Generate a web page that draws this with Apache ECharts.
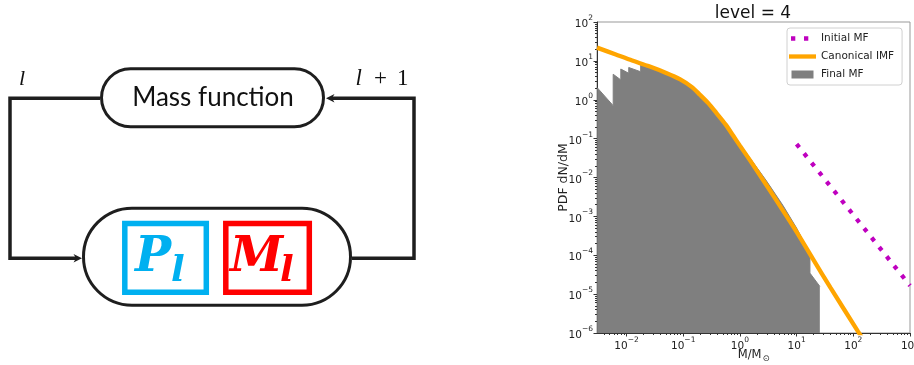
<!DOCTYPE html>
<html><head><meta charset="utf-8">
<script src="https://cdn.jsdelivr.net/npm/echarts@6/dist/echarts.min.js"></script>
<style>html,body{margin:0;padding:0;background:#fff}#c{width:914px;height:365px}</style>
</head><body><div id="c"></div>
<script>
// ---- data ----
const xTickExponents = [-2, -1, 0, 1, 2, 3];
const yTickExponents = [-6, -5, -4, -3, -2, -1, 0, 1, 2];
const seriesNames = ['Initial MF', 'Canonical IMF', 'Final MF'];

const initialMass = [10, 1000];
const initialPdf  = [0.0724, 1.66e-5];

const canonicalMass = [0.00302, 0.00631, 0.0126, 0.0251, 0.0501, 0.0871, 0.141, 0.200, 0.282, 0.389, 0.562, 0.759, 1.0, 1.51, 2.95, 5.75, 10, 19.5, 39.8, 120, 200];
const canonicalPdf  = [21.9, 14.8, 10.2, 7.24, 4.90, 3.39, 2.14, 1.32, 0.794, 0.447, 0.229, 0.120, 0.0661, 0.0275, 0.00631, 0.00141, 3.98e-4, 7.94e-5, 1.45e-5, 1.12e-6, 3.5e-7];

const finalMass = [0.00304, 0.00583, 0.00583, 0.00794, 0.00794, 0.01096, 0.01096, 0.0178, 0.0178, 0.0224, 0.024, 0.0251, 0.0355, 0.038, 0.0417, 0.0562, 0.0871, 0.112, 0.141, 0.200, 0.282, 0.389, 0.562, 0.759, 1.0, 1.51, 2.95, 5.75, 10, 14.1, 17.2, 17.2, 25.7];
const finalPdf  = [2.05, 0.705, 4.53, 3.24, 6.17, 4.79, 6.76, 5.25, 7.94, 7.24, 7.76, 6.76, 5.75, 6.31, 5.25, 4.27, 3.09, 2.51, 1.95, 1.23, 0.741, 0.427, 0.219, 0.120, 0.0724, 0.0316, 0.00813, 0.00191, 5.01e-4, 1.91e-4, 1.0e-4, 3.47e-5, 1.58e-5];

// ---- helpers ----
const lg = v => Math.log10(v);
const pairs = (xs, ys) => xs.map((x, i) => [lg(x), lg(ys[i])]);
function minorTicks(lo, hi) {
  const out = [];
  for (let n = Math.floor(lo) - 1; n <= Math.ceil(hi); n++) {
    for (let k = 2; k <= 9; k++) {
      const v = n + Math.log10(k);
      if (v >= lo && v <= hi) out.push(v);
    }
  }
  return out;
}
const X_MIN = -2.52, X_MAX = 3, Y_MIN = -6, Y_MAX = 2;
const powLabel = v => {
  const e = Math.round(v);
  return '{b|10}{s|' + (e < 0 ? '\u2212' + (-e) : e) + '}';
};
const powRich = {
  b: { fontFamily: 'DejaVu Sans', fontSize: 10.5, color: '#222', lineHeight: 16, verticalAlign: 'bottom' },
  s: { fontFamily: 'DejaVu Sans', fontSize: 7.5, color: '#222', lineHeight: 9, verticalAlign: 'top' }
};
const tickColor = '#333';

const chart = echarts.init(document.getElementById('c'), null, { renderer: 'canvas' });

const diagramColor = '#1e1e1e';
const graphic = [
  { type: 'text', x: 753, y: 14, style: { text: 'level = 4', fontFamily: 'DejaVu Sans', fontSize: 17, fill: '#111', align: 'center', verticalAlign: 'middle' } },
  // x-axis title: M/M with a subscript sun symbol
  { type: 'text', x: 761.5, y: 355, style: { text: 'M/M', fontFamily: 'DejaVu Sans', fontSize: 11.5, fill: '#222', align: 'right', verticalAlign: 'middle' } },
  { type: 'text', x: 762.5, y: 358.5, style: { text: '\u2299', fontFamily: 'DejaVu Sans', fontSize: 8.5, fill: '#222', align: 'left', verticalAlign: 'middle' } },
  // diagram
  { type: 'rect', shape: { x: 101.5, y: 68.8, width: 222, height: 58, r: 29 }, style: { fill: '#fff', stroke: diagramColor, lineWidth: 3 } },
  { type: 'text', x: 213, y: 98, style: { text: 'Mass function', fontFamily: 'Lato', fontSize: 26, fill: '#111', align: 'center', verticalAlign: 'middle' } },
  { type: 'rect', shape: { x: 83.5, y: 208.2, width: 267, height: 97, r: 48.5 }, style: { fill: '#fff', stroke: diagramColor, lineWidth: 3 } },
  { type: 'polyline', shape: { points: [[100, 98.3], [10, 98.3], [10, 258.3], [76, 258.3]] }, style: { stroke: diagramColor, lineWidth: 3.5, fill: null } },
  { type: 'polygon', shape: { points: [[82, 258.3], [73.5, 254], [76, 258.3], [73.5, 262.6]] }, style: { fill: diagramColor } },
  { type: 'polyline', shape: { points: [[352, 258.3], [414, 258.3], [414, 98.3], [332, 98.3]] }, style: { stroke: diagramColor, lineWidth: 3.5, fill: null } },
  { type: 'polygon', shape: { points: [[326, 98.3], [334.5, 94], [332, 98.3], [334.5, 102.6]] }, style: { fill: diagramColor } },
  { type: 'rect', shape: { x: 124.8, y: 223.5, width: 81.5, height: 68.8 }, style: { fill: null, stroke: '#00b0f0', lineWidth: 5.5 } },
  { type: 'rect', shape: { x: 225.8, y: 223.5, width: 83.5, height: 68.8 }, style: { fill: null, stroke: '#ff0000', lineWidth: 5.5 } },
  { type: 'text', x: 135, y: 259, style: { text: 'P', fontFamily: 'DejaVu Serif', fontWeight: 'bold', fontStyle: 'italic', fontSize: 48, fill: '#00b0f0', align: 'left', verticalAlign: 'middle' } },
  { type: 'text', x: 171, y: 272, style: { text: 'l', fontFamily: 'DejaVu Serif', fontWeight: 'bold', fontStyle: 'italic', fontSize: 36, fill: '#00b0f0', align: 'left', verticalAlign: 'middle' } },
  { type: 'text', x: 230, y: 259, style: { text: 'M', fontFamily: 'DejaVu Serif', fontWeight: 'bold', fontStyle: 'italic', fontSize: 48, fill: '#ff0000', align: 'left', verticalAlign: 'middle' } },
  { type: 'text', x: 280, y: 272, style: { text: 'l', fontFamily: 'DejaVu Serif', fontWeight: 'bold', fontStyle: 'italic', fontSize: 36, fill: '#ff0000', align: 'left', verticalAlign: 'middle' } },
  { type: 'text', x: 22, y: 79, style: { text: 'l', fontFamily: 'Liberation Serif', fontStyle: 'italic', fontSize: 22, fill: '#111', align: 'center', verticalAlign: 'middle' } },
  { type: 'text', x: 382, y: 79, style: { text: '{a|l}{b|+}{c|1}', align: 'center', verticalAlign: 'middle',
      rich: {
        a: { fontFamily: 'Liberation Serif', fontStyle: 'italic', fontSize: 23, fill: '#111' },
        b: { fontFamily: 'Liberation Serif', fontSize: 23, fill: '#111', padding: [0, 10, 0, 12] },
        c: { fontFamily: 'Liberation Serif', fontSize: 23, fill: '#111' }
      } } }
];

const option = {
  animation: false,
  backgroundColor: '#fff',
  graphic: graphic,
  grid: { left: 597, top: 22, width: 313, height: 311, show: true, borderColor: '#999', borderWidth: 1, backgroundColor: '#fff', containLabel: false, outerBoundsMode: 'none' },
  legend: {
    orient: 'vertical', left: 787, top: 28,
    itemWidth: 27, itemHeight: 8, itemGap: 7,
    padding: [5, 8, 5, 2],
    backgroundColor: 'rgba(255,255,255,0.85)', borderColor: '#d0d0d0', borderWidth: 1, borderRadius: 3,
    selectedMode: false,
    symbolKeepAspect: true,
    itemStyle: { borderWidth: 0 },
    textStyle: { fontFamily: 'DejaVu Sans', fontSize: 10.5, color: '#222' },
    data: [
      { name: seriesNames[0], icon: 'path://M0,20L0.01,20L0,21Z M270,20L270.01,20L270,21Z M20,0H63V43H20Z M150,0H193V43H150Z' },
      { name: seriesNames[1], icon: 'path://M0,0H270V43H0Z' },
      { name: seriesNames[2], icon: 'path://M0,0H220V80H0Z' }
    ]
  },
  xAxis: [
    {
      type: 'value', min: X_MIN, max: X_MAX, position: 'bottom',
      axisLine: { show: true, onZero: false, lineStyle: { color: tickColor, width: 1 } },
      axisTick: { show: true, customValues: xTickExponents, length: 3.5, lineStyle: { color: tickColor } },
      axisLabel: { show: true, customValues: xTickExponents, formatter: powLabel, rich: powRich, margin: 3 },
      splitLine: { show: false }
    },
    {
      type: 'value', min: X_MIN, max: X_MAX, position: 'bottom',
      axisLine: { show: false, onZero: false },
      axisTick: { show: true, customValues: minorTicks(X_MIN, X_MAX), length: 2, lineStyle: { color: tickColor } },
      axisLabel: { show: false },
      splitLine: { show: false }
    }
  ],
  yAxis: [
    {
      type: 'value', min: Y_MIN, max: Y_MAX, position: 'left',
      axisLine: { show: true, onZero: false, lineStyle: { color: tickColor, width: 1 } },
      axisTick: { show: true, customValues: yTickExponents, length: 3.5, lineStyle: { color: tickColor } },
      axisLabel: { show: true, customValues: yTickExponents, formatter: powLabel, rich: powRich, margin: 4 },
      splitLine: { show: false },
      name: 'PDF dN/dM', nameLocation: 'middle', nameGap: 27, nameMoveOverlap: false,
      nameTextStyle: { fontFamily: 'DejaVu Sans', fontSize: 12.5, color: '#222' }
    },
    {
      type: 'value', min: Y_MIN, max: Y_MAX, position: 'left',
      axisLine: { show: false, onZero: false },
      axisTick: { show: true, customValues: minorTicks(Y_MIN, Y_MAX), length: 2, lineStyle: { color: tickColor } },
      axisLabel: { show: false },
      splitLine: { show: false }
    }
  ],
  series: [
    {
      name: seriesNames[2], type: 'line', xAxisIndex: 0, yAxisIndex: 0,
      data: pairs(finalMass, finalPdf), symbol: 'none', clip: true,
      itemStyle: { color: '#7f7f7f' },
      lineStyle: { color: '#7f7f7f', width: 1 },
      areaStyle: { color: '#7f7f7f', opacity: 1, origin: 'start' },
      z: 2
    },
    {
      name: seriesNames[1], type: 'line', xAxisIndex: 0, yAxisIndex: 0,
      data: pairs(canonicalMass, canonicalPdf), symbol: 'none', smooth: 0.3, clip: true,
      itemStyle: { color: '#ffa500' },
      lineStyle: { color: '#ffa500', width: 4.3 },
      z: 3
    },
    {
      name: seriesNames[0], type: 'line', xAxisIndex: 0, yAxisIndex: 0,
      data: pairs(initialMass, initialPdf), symbol: 'none', clip: true,
      itemStyle: { color: '#bf00bf' },
      lineStyle: { color: '#bf00bf', width: 4.3, type: [4.3, 7.7], cap: 'butt' },
      z: 4
    }
  ]
};
chart.setOption(option);
</script>
</body></html>
